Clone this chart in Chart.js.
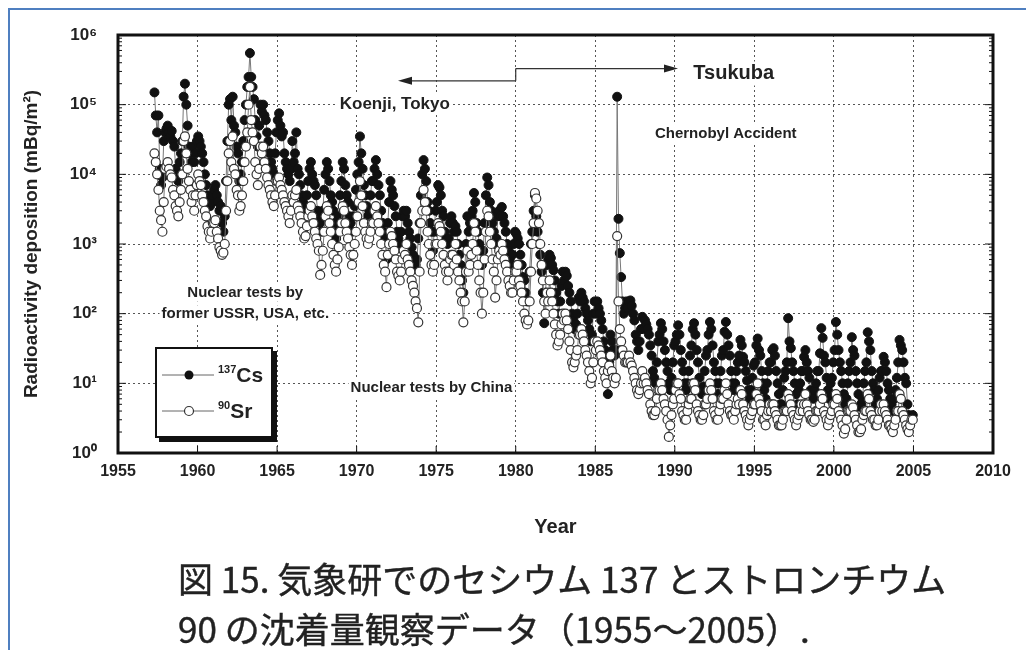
<!DOCTYPE html>
<html>
<head>
<meta charset="utf-8">
<script src="https://cdn.jsdelivr.net/npm/chart.js@4"></script>
<style>
    body { margin: 0; background: #fff; }
    #wrap { position: relative; width: 1026px; height: 650px; overflow: hidden; }
    #frameline { position: absolute; left: 8px; top: 8px; width: 1030px; height: 700px; border-top: 2px solid #4f7fc0; border-left: 2px solid #4f7fc0; }
    #myChart { position: absolute; left: 0; top: 0; }
    #legend { position: absolute; left: 155px; top: 347px; width: 114px; height: 87px; border: 2px solid #111; background: #fff; box-shadow: 4px 4px 0 #111; font-family: 'Liberation Sans', Arial, sans-serif; color: #222; }
    #legend .row { position: absolute; left: 5px; height: 20px; display: flex; align-items: center; }
    #legend .txt { margin-left: 4px; font-size: 21px; font-weight: bold; }
    #legend sup { font-size: 11px; vertical-align: 9px; }
    .cap { position: absolute; left: 178px; font-family: 'Noto Sans CJK JP', sans-serif; font-size: 35px; line-height: 1; color: #222; white-space: nowrap; -webkit-text-stroke: 0.4px #222; }
</style>
</head>
<body>
<div id="wrap">
    <div id="frameline"></div>
    <canvas id="myChart" width="1026" height="650"></canvas>
    <div id="legend">
        <div class="row" style="top:16px">
            <svg width="52" height="14"><line x1="0" y1="7" x2="52" y2="7" stroke="#666" stroke-width="1"/><circle cx="27" cy="7" r="4.5" fill="#111"/></svg>
            <span class="txt"><sup>137</sup>Cs</span>
        </div>
        <div class="row" style="top:52px">
            <svg width="52" height="14"><line x1="0" y1="7" x2="52" y2="7" stroke="#666" stroke-width="1"/><circle cx="27" cy="7" r="4.5" fill="#fff" stroke="#333" stroke-width="1.2"/></svg>
            <span class="txt"><sup>90</sup>Sr</span>
        </div>
    </div>
    <div class="cap" style="top:560px">図 15. 気象研でのセシウム 137 とストロンチウム</div>
    <div class="cap" style="top:610px">90 の沈着量観察データ（1955～2005）.</div>
</div>
<script>
// monthly deposition, mBq/m2, Jan..Dec of each year
const years = [1957, 1958, 1959, 1960, 1961, 1962, 1963, 1964, 1965, 1966, 1967, 1968,
    1969, 1970, 1971, 1972, 1973, 1974, 1975, 1976, 1977, 1978, 1979, 1980,
    1981, 1982, 1983, 1984, 1985, 1986, 1987, 1988, 1989, 1990, 1991, 1992,
    1993, 1994, 1995, 1996, 1997, 1998, 1999, 2000, 2001, 2002, 2003, 2004];

const cs137 = [
    [null, null, null, 150000, 70000, 40000, 70000, 12000, 7000, 9000, 30000, 40000],
    [45000, 50000, 40000, 35000, 42000, 30000, 25000, 12000, 10000, 8000, 15000, 20000],
    [30000, 130000, 200000, 100000, 50000, 25000, 20000, 15000, 25000, 15000, 20000, 30000],
    [35000, 30000, 25000, 20000, 15000, 10000, 7000, 5000, 4000, 3500, 4000, 5000],
    [6000, 7000, 5000, 4000, 3000, 3500, 2000, 1500, 2500, 8000, 30000, 100000],
    [120000, 60000, 130000, 50000, 40000, 25000, 20000, 8000, 10000, 15000, 30000, 60000],
    [100000, 180000, 250000, 550000, 250000, 180000, 120000, 60000, 35000, 25000, 50000, 100000],
    [80000, 100000, 70000, 60000, 40000, 30000, 20000, 15000, 12000, 10000, 20000, 40000],
    [60000, 75000, 50000, 35000, 40000, 20000, 15000, 12000, 10000, 8000, 12000, 30000],
    [15000, 20000, 40000, 12000, 10000, 7000, 5000, 4000, 3000, 3500, 5000, 8000],
    [12000, 15000, 10000, 8000, 7000, 5000, 3000, 2500, 2000, 1500, 3000, 6000],
    [10000, 15000, 12000, 8000, 5000, 4000, 3000, 2000, 1200, 1500, 2500, 5000],
    [8000, 15000, 12000, 7000, 5000, 4000, 2500, 2000, 1500, 2500, 3500, 6000],
    [10000, 15000, 35000, 20000, 12000, 7000, 5000, 3500, 2500, 3000, 5000, 8000],
    [8000, 12000, 16000, 10000, 7000, 5000, 3000, 2000, 1500, 1200, 600, 2000],
    [4000, 8000, 6000, 5000, 3500, 2500, 1500, 1200, 1000, 1500, 2500, 3000],
    [2500, 3000, 2000, 1500, 1200, 900, 700, 500, 500, 600, 1200, 2000],
    [5000, 10000, 16000, 12000, 8000, 4000, 3000, 2000, 1500, 800, 1500, 3000],
    [4000, 7000, 6500, 5000, 3000, 2500, 1500, 1200, 1000, 1200, 2000, 2500],
    [2000, 1500, 1800, 1500, 1000, 700, 500, 300, 200, 400, 1000, 2500],
    [1500, 2000, 2500, 3000, 5400, 4000, 2000, 1500, 1000, 800, 500, 800],
    [2000, 5000, 9000, 7000, 4000, 3000, 2000, 1500, 1000, 1200, 2500, 3000],
    [2500, 3400, 2500, 2000, 1500, 1000, 800, 600, 500, 700, 1000, 1500],
    [1400, 1200, 1000, 700, 500, 335, 300, 200, 150, 150, 400, 1000],
    [1500, 3000, 5000, 2500, 1500, 1000, 700, 400, 200, 73, 200, 500],
    [600, 700, 630, 500, 420, 300, 200, 150, 100, 150, 250, 400],
    [300, 400, 350, 250, 200, 150, 100, 80, 60, 70, 100, 170],
    [150, 200, 170, 150, 120, 100, 80, 60, 40, 50, 100, 150],
    [100, 150, 120, 100, 80, 60, 40, 30, 20, 7, 20, 50],
    [40, 30, 25, 30, 130000, 2300, 740, 335, 150, 100, 120, 150],
    [120, 150, 155, 130, 100, 80, 50, 40, 30, 40, 60, 90],
    [60, 80, 70, 60, 50, 35, 25, 15, 12, 10, 20, 40],
    [50, 73, 60, 40, 30, 20, 15, 10, 8, 12, 20, 35],
    [40, 50, 68, 50, 30, 20, 15, 10, 8, 10, 15, 25],
    [35, 60, 73, 50, 30, 20, 12, 8, 7, 9, 15, 25],
    [30, 50, 76, 60, 35, 20, 15, 10, 7, 10, 15, 25],
    [30, 55, 76, 50, 35, 25, 15, 10, 8, 10, 15, 20],
    [25, 42, 35, 24, 20, 15, 11, 8, 6, 8, 12, 18],
    [20, 35, 44, 30, 25, 15, 10, 8, 6, 10, 15, 20],
    [20, 30, 32, 25, 15, 10, 7, 5, 5, 8, 12, 15],
    [20, 86, 40, 32, 20, 15, 10, 7, 5, 8, 10, 15],
    [15, 24, 30, 20, 15, 12, 8, 7, 6, 8, 10, 15],
    [15, 27, 62, 45, 25, 20, 12, 8, 6, 10, 12, 20],
    [30, 76, 50, 30, 20, 15, 10, 7, 5, 6, 10, 15],
    [20, 46, 30, 25, 15, 10, 7, 4.6, 5, 6, 10, 15],
    [20, 54, 40, 30, 15, 10, 8, 5, 6, 8, 12, 15],
    [15, 24, 20, 15, 10, 8, 6, 5, 4, 6, 8, 12],
    [20, 42, 35, 30, 20, 12, 10, 5, 3.5, 2.7, 3, 3.5]
];

const sr90 = [
    [null, null, null, 20000, 15000, 10000, 6000, 3000, 2200, 1500, 4000, 12000],
    [13000, 15000, 12000, 10000, 9000, 6000, 5000, 3500, 3000, 2500, 4000, 6000],
    [10000, 30000, 35000, 20000, 12000, 8000, 6000, 4000, 5000, 3000, 5000, 7000],
    [10000, 8000, 7000, 5000, 4000, 3000, 2500, 1800, 1500, 1200, 1500, 2000],
    [2000, 2200, 1500, 1200, 900, 800, 700, 750, 1000, 3000, 8000, 20000],
    [30000, 15000, 35000, 12000, 10000, 6000, 5000, 3000, 3500, 5000, 8000, 15000],
    [25000, 40000, 100000, 180000, 60000, 40000, 30000, 15000, 10000, 7000, 12000, 25000],
    [20000, 25000, 15000, 12000, 9000, 7000, 6000, 5000, 4000, 3500, 5000, 8000],
    [8000, 9000, 7000, 6000, 5000, 4000, 3500, 3000, 2500, 2000, 3000, 5000],
    [4000, 5000, 6000, 3500, 3000, 2500, 2000, 1500, 1200, 1300, 1800, 2500],
    [3000, 3500, 2500, 2000, 1500, 1200, 1000, 800, 360, 500, 800, 1500],
    [2500, 3500, 3000, 2000, 1500, 1000, 700, 500, 400, 600, 900, 1500],
    [2000, 3500, 3000, 2000, 1500, 1200, 900, 700, 500, 700, 1000, 1500],
    [2500, 4000, 8000, 5000, 3500, 2000, 1500, 1200, 1000, 1200, 1500, 2000],
    [2000, 3000, 3500, 2500, 2000, 1500, 1000, 700, 500, 400, 240, 700],
    [1000, 1500, 1300, 1000, 800, 600, 400, 350, 300, 400, 600, 800],
    [700, 1000, 600, 500, 400, 300, 250, 200, 150, 120, 75, 400],
    [2000, 3000, 6000, 4000, 3000, 1500, 1000, 700, 500, 400, 500, 1000],
    [1000, 2000, 1800, 1500, 1000, 700, 500, 400, 300, 400, 600, 700],
    [700, 500, 1000, 600, 400, 300, 200, 150, 75, 150, 400, 800],
    [400, 500, 700, 1000, 2000, 1500, 800, 500, 300, 200, 100, 200],
    [600, 1500, 3000, 2500, 1500, 1000, 600, 400, 170, 300, 600, 800],
    [700, 1000, 800, 600, 500, 400, 300, 250, 200, 200, 300, 400],
    [400, 500, 300, 250, 200, 150, 100, 80, 70, 80, 150, 400],
    [1000, 2000, 5400, 4500, 3000, 2000, 1000, 500, 300, 150, 100, 200],
    [150, 300, 200, 150, 100, 70, 50, 35, 40, 50, 70, 100],
    [80, 100, 80, 60, 40, 30, 20, 17, 20, 25, 30, 50],
    [50, 60, 50, 40, 30, 25, 20, 15, 10, 12, 20, 40],
    [30, 40, 35, 30, 25, 20, 15, 12, 10, 15, 18, 25],
    [15, 12, 10, 12, 1300, 150, 60, 40, 30, 25, 20, 20],
    [20, 25, 20, 18, 15, 12, 10, 8, 7, 8, 10, 15],
    [10, 12, 10, 8, 7, 5, 4, 3.5, 3.5, 4, 6, 8],
    [8, 10, 8, 6, 5, 4, 3, 1.7, 2.5, 3.5, 5, 6],
    [8, 10, 10, 7, 6, 4, 3.5, 3, 3, 4, 5, 6],
    [6, 10, 10, 8, 5, 4, 3.5, 3, 3, 3.5, 5, 5],
    [6, 8, 10, 8, 6, 4, 3.5, 3, 3, 4, 5, 6],
    [6, 8, 10, 7, 5, 4, 3.5, 3.5, 3, 4, 5, 6],
    [5, 8, 7, 5, 4, 3.5, 3, 2.5, 3, 3.5, 4, 5],
    [5, 7, 10, 6, 5, 4, 3, 3, 2.5, 3.5, 4, 5],
    [4, 5, 5, 4, 3.5, 3, 2.5, 2.5, 2.5, 3, 4, 4],
    [4, 7, 6, 5, 4, 3.5, 3, 2.5, 3, 3.5, 4, 5],
    [4, 5, 7, 5, 4, 3.5, 3, 3, 2.8, 3, 4, 4],
    [4, 5, 7, 6, 4, 3.5, 3, 2.5, 3, 3.5, 4, 5],
    [5, 7, 6, 4, 3.5, 3, 2.5, 1.9, 2.2, 3, 4, 4],
    [4, 5, 4.5, 3.5, 3, 2.5, 2, 2, 2.2, 3, 3.5, 4],
    [4, 7, 6, 4, 3.5, 3, 3, 2.5, 2.5, 3, 4, 5],
    [4, 5, 4, 3.5, 3, 2.5, 2.5, 2.2, 2, 2.5, 3, 4],
    [4, 7, 6, 4, 3.5, 3, 2.5, 2.2, 2, 2.5, 3, 3]
];

const yTicks = [1, 10, 100, 1000, 10000, 100000, 1000000];
const supDigits = ['⁰', '¹', '²', '³', '⁴', '⁵', '⁶'];

const FONT = "'Liberation Sans', Arial, sans-serif";

function toPoints(table) {
    const pts = [];
    years.forEach(function (yr, i) {
        table[i].forEach(function (v, m) {
            if (v !== null) pts.push({ x: yr + (m + 0.5) / 12, y: v });
        });
    });
    return pts;
}

// notes and arrows, placed in data coordinates
const notes = {
    id: 'notes',
    afterDatasetsDraw(chart) {
        const { ctx, scales: { x, y } } = chart;

        function text(str, xv, yv, size) {
            ctx.font = 'bold ' + size + 'px ' + FONT;
            const w = ctx.measureText(str).width;
            const px = x.getPixelForValue(xv), py = y.getPixelForValue(yv);
            ctx.fillStyle = '#fff';
            ctx.fillRect(px - w / 2 - 2, py - size * 0.6, w + 4, size * 1.2);
            ctx.fillStyle = '#222';
            ctx.textAlign = 'center';
            ctx.textBaseline = 'middle';
            ctx.fillText(str, px, py);
        }

        function arrow(x0, x1, yv) {
            const px0 = x.getPixelForValue(x0), px1 = x.getPixelForValue(x1), py = y.getPixelForValue(yv);
            const dir = px1 > px0 ? 1 : -1;
            ctx.beginPath();
            ctx.moveTo(px0, py);
            ctx.lineTo(px1 - dir * 12, py);
            ctx.stroke();
            ctx.beginPath();
            ctx.moveTo(px1, py);
            ctx.lineTo(px1 - dir * 14, py - 4);
            ctx.lineTo(px1 - dir * 14, py + 4);
            ctx.closePath();
            ctx.fill();
        }

        ctx.save();
        ctx.strokeStyle = '#333';
        ctx.fillStyle = '#222';
        ctx.lineWidth = 1.2;
        arrow(1980, 1972.6, 2.2e5);
        arrow(1980, 1990.2, 3.3e5);
        ctx.beginPath();
        ctx.moveTo(x.getPixelForValue(1980), y.getPixelForValue(3.3e5));
        ctx.lineTo(x.getPixelForValue(1980), y.getPixelForValue(2.2e5));
        ctx.stroke();

        text('Koenji, Tokyo', 1972.4, 1.0e5, 17);
        text('Tsukuba', 1993.7, 2.8e5, 20);
        text('Chernobyl Accident', 1993.2, 3.8e4, 15);
        text('Nuclear tests by', 1963.0, 200, 15);
        text('former USSR, USA, etc.', 1963.0, 98, 15);
        text('Nuclear tests by China', 1974.7, 8.5, 15);
        ctx.restore();
    }
};

// heavy frame plus inner minor ticks
const frame = {
    id: 'frame',
    afterDraw(chart) {
        const { ctx, chartArea: a, scales: { x, y } } = chart;
        ctx.save();
        ctx.strokeStyle = '#111';
        ctx.lineWidth = 1;
        ctx.beginPath();
        for (let k = 0; k < 6; k++) {
            for (let m = 1; m < 10; m++) {
                const py = y.getPixelForValue(m * Math.pow(10, k));
                const len = m === 1 ? 8 : 4;
                ctx.moveTo(a.left, py);
                ctx.lineTo(a.left + len, py);
                ctx.moveTo(a.right, py);
                ctx.lineTo(a.right - len, py);
            }
        }
        for (let yr = 1960; yr < 2010; yr += 5) {
            const px = x.getPixelForValue(yr);
            ctx.moveTo(px, a.bottom);
            ctx.lineTo(px, a.bottom - 7);
        }
        ctx.stroke();
        ctx.lineWidth = 3;
        ctx.strokeRect(a.left, a.top, a.right - a.left, a.bottom - a.top);
        ctx.restore();
    }
};

document.addEventListener('DOMContentLoaded', function () {
    const canvas = document.getElementById('myChart');
    const ctx = canvas.getContext('2d');

    Chart.defaults.font.family = FONT;
    Chart.defaults.color = '#222';

    new Chart(ctx, {
        type: 'line',
        data: {
            datasets: [
                {
                    label: '137Cs',
                    data: toPoints(cs137),
                    order: 1,
                    borderColor: '#777',
                    borderWidth: 1,
                    pointRadius: 4.5,
                    pointBackgroundColor: '#111',
                    pointBorderColor: '#111',
                    pointBorderWidth: 1
                },
                {
                    label: '90Sr',
                    data: toPoints(sr90),
                    order: 0,
                    borderColor: '#777',
                    borderWidth: 1,
                    pointRadius: 4.5,
                    pointBackgroundColor: '#fff',
                    pointBorderColor: '#333',
                    pointBorderWidth: 1.2
                }
            ]
        },
        options: {
            responsive: false,
            animation: false,
            layout: { padding: { left: 0, top: 35, right: 33, bottom: 0 } },
            plugins: {
                legend: { display: false },
                tooltip: { enabled: false }
            },
            scales: {
                x: {
                    type: 'linear',
                    min: 1955,
                    max: 2010,
                    afterFit: function (s) { s.height = 197; },
                    ticks: {
                        stepSize: 5,
                        autoSkip: false,
                        maxRotation: 0,
                        padding: 9,
                        font: { size: 16, weight: 'bold' },
                        callback: function (v) { return String(v); }
                    },
                    grid: { color: '#555', lineWidth: 1, drawTicks: false },
                    border: { display: false, dash: [2, 3] },
                    title: {
                        display: true,
                        text: 'Year',
                        font: { size: 20, weight: 'bold' },
                        padding: { top: 4, bottom: 111 }
                    }
                },
                y: {
                    type: 'logarithmic',
                    min: 1,
                    max: 1000000,
                    afterBuildTicks: function (s) {
                        s.ticks = yTicks.map(function (v) { return { value: v }; });
                    },
                    afterFit: function (s) { s.width = 118; },
                    ticks: {
                        padding: 21,
                        font: { size: 17, weight: 'bold' },
                        callback: function (v) {
                            return '10' + supDigits[Math.round(Math.log10(v))];
                        }
                    },
                    grid: { color: '#555', lineWidth: 1, drawTicks: false },
                    border: { display: false, dash: [2, 3] },
                    title: {
                        display: true,
                        text: 'Radioactivity deposition (mBq/m²)',
                        font: { size: 19, weight: 'bold' },
                        padding: { top: 20, bottom: 20 }
                    }
                }
            }
        },
        plugins: [notes, frame]
    });
});
</script>
</body>
</html>
